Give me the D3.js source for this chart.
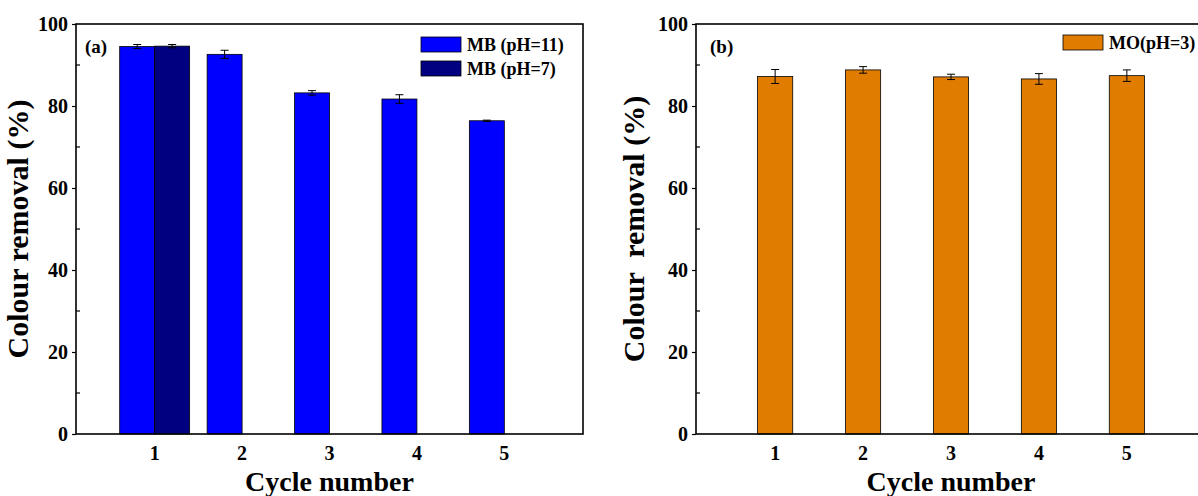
<!DOCTYPE html>
<meta charset="utf-8">
<script src="https://d3js.org/d3.v7.min.js"></script>
<style>
  body { margin: 0; background: #fff; }
  text { font-family: "Liberation Serif", "Times New Roman", serif; font-weight: bold; fill: #000; }
</style>
<body>
<div id="canvas"></div>
<script>
// dados -----------------------------------------------------------
var cycles = [1, 2, 3, 4, 5];
var mb11 = [94.5, 92.6, 83.2, 81.7, 76.4];
var mb11Err = [0.5, 1.0, 0.55, 1.05, 0.15];
var mb7 = [94.6];
var mb7Err = [0.4];
var mo3 = [87.2, 88.8, 87.1, 86.6, 87.4];
var mo3Err = [1.7, 0.8, 0.65, 1.3, 1.4];
var yTicks = [0, 20, 40, 60, 80, 100];
var yMinor = [10, 30, 50, 70, 90];

var width = 1198, height = 496;

var svg = d3.select('#canvas')
    .append('svg')
    .attr('width', width)
    .attr('height', height);

function painel(left, right, label, yTitleX) {
    var x = d3.scaleLinear().domain([0.1, 5.9]).range([left, right]);
    var y = d3.scaleLinear().domain([0, 100]).range([434, 24]);
    var g = svg.append('g');

    // eixo Y ------------------------------------------------------
    var yAxis = d3.axisLeft(y).tickValues(yTicks).tickSize(4).tickPadding(4);
    var ga = g.append('g')
        .attr('transform', 'translate(' + left + ',0)')
        .call(yAxis);
    ga.select('.domain').remove();
    ga.selectAll('text')
        .style('font-size', '20px')
        .style('font-family', '"Liberation Serif", serif')
        .style('font-weight', 'bold');
    ga.selectAll('line').attr('stroke-width', 1.2);

    g.selectAll('.minor')
        .data(yMinor)
        .enter()
        .append('line')
        .attr('x1', left).attr('x2', left + 4)
        .attr('y1', function(d) { return y(d); })
        .attr('y2', function(d) { return y(d); })
        .attr('stroke', '#000')
        .attr('stroke-width', 1.2);

    // rotulos do eixo X (sem marcas) -------------------------------
    g.selectAll('.xl')
        .data(cycles)
        .enter()
        .append('text')
        .attr('x', function(d) { return x(d); })
        .attr('y', 460)
        .attr('text-anchor', 'middle')
        .style('font-size', '20px')
        .text(function(d) { return d; });

    g.append('text')
        .attr('x', (left + right) / 2)
        .attr('y', 491)
        .attr('text-anchor', 'middle')
        .style('font-size', '28px')
        .text('Cycle number');

    g.append('text')
        .attr('transform', 'translate(' + (yTitleX + 10) + ',' + y(50) + ') rotate(-90)')
        .attr('text-anchor', 'middle')
        .style('font-size', '30px')
        .style('white-space', 'pre')
        .text(label);

    return {g: g, x: x, y: y};
}

function barras(p, values, errs, x0, w, color) {
    p.g.selectAll(null)
        .data(values)
        .enter()
        .append('rect')
        .attr('x', function(d, i) { return p.x(cycles[i] + x0); })
        .attr('width', function() { return p.x(w) - p.x(0); })
        .attr('y', function(d) { return p.y(d); })
        .attr('height', function(d) { return p.y(0) - p.y(d); })
        .attr('fill', color)
        .attr('stroke', '#000')
        .attr('stroke-width', 0.8);

    // barras de erro
    values.forEach(function(d, i) {
        var cx = p.x(cycles[i] + x0 + w / 2);
        var y1 = p.y(d + errs[i]), y2 = p.y(d - errs[i]);
        p.g.append('line').attr('x1', cx).attr('x2', cx).attr('y1', y1).attr('y2', y2)
            .attr('stroke', '#000').attr('stroke-width', 1);
        [y1, y2].forEach(function(yy) {
            p.g.append('line').attr('x1', cx - 4).attr('x2', cx + 4).attr('y1', yy).attr('y2', yy)
                .attr('stroke', '#000').attr('stroke-width', 1);
        });
    });
}

function moldura(p, left, right) {
    p.g.append('rect')
        .attr('x', left).attr('y', p.y(100))
        .attr('width', right - left)
        .attr('height', p.y(0) - p.y(100))
        .attr('fill', 'none')
        .attr('stroke', '#000')
        .attr('stroke-width', 1.6);
}

function legenda(p, lx, ly, color, txt) {
    p.g.append('rect')
        .attr('x', lx).attr('y', ly).attr('width', 40).attr('height', 15)
        .attr('fill', color).attr('stroke', '#000').attr('stroke-width', 0.8);
    p.g.append('text')
        .attr('x', lx + 46).attr('y', ly + 14)
        .style('font-size', '18px')
        .text(txt);
}

// painel (a) ------------------------------------------------------
var a = painel(76, 583, 'Colour removal (%)', 18);
barras(a, mb11, mb11Err, -0.4, 0.4, '#0000ff');
barras(a, mb7, mb7Err, 0, 0.4, '#000080');
moldura(a, 76, 583);
legenda(a, 421, 37, '#0000ff', 'MB (pH=11)');
legenda(a, 421, 61, '#000080', 'MB (pH=7)');
a.g.append('text').attr('x', 85).attr('y', 53).style('font-size', '19px').text('(a)');

// painel (b) ------------------------------------------------------
var b = painel(696, 1206, 'Colour  removal (%)', 634);
barras(b, mo3, mo3Err, -0.2, 0.4, '#e07c00');
moldura(b, 696, 1206);
legenda(b, 1063, 35, '#e07c00', 'MO(pH=3)');
b.g.append('text').attr('x', 710).attr('y', 53).style('font-size', '19px').text('(b)');
</script>
</body>
